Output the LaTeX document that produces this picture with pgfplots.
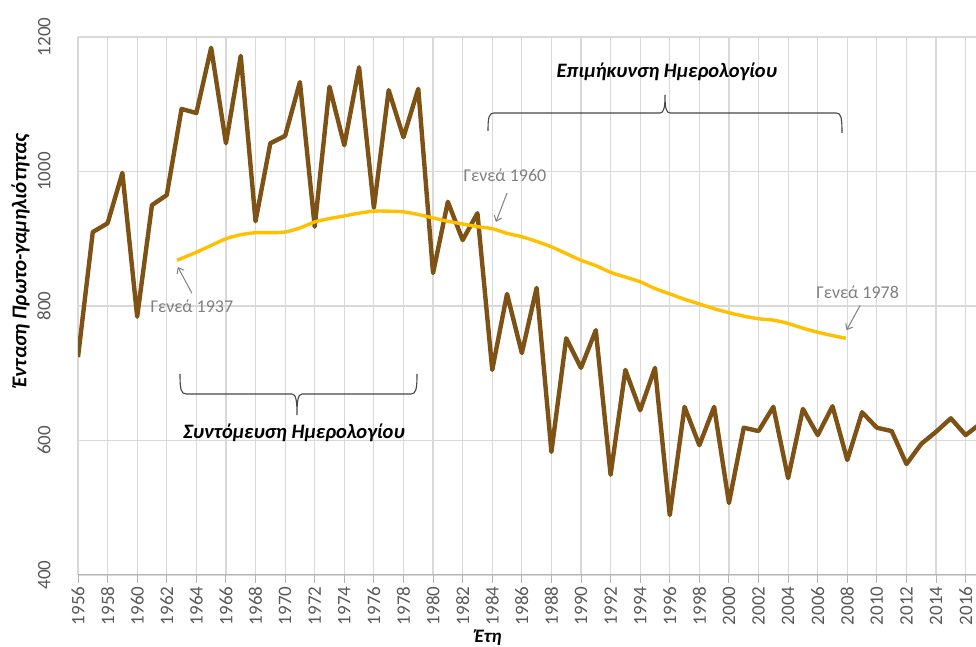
\documentclass[border=0pt]{standalone}
\usepackage{fontspec}
\setmainfont{Carlito}
\usepackage{pgfplots}
\pgfplotsset{compat=1.18}
\usetikzlibrary{arrows.meta}
\definecolor{brownline}{RGB}{125,82,20}
\definecolor{goldline}{RGB}{255,192,0}
\definecolor{gridgray}{RGB}{217,217,217}
\definecolor{ticktext}{RGB}{89,89,89}
\definecolor{annot}{RGB}{128,128,128}
\definecolor{bracecol}{RGB}{70,70,70}
\begin{document}
\begin{tikzpicture}
\useasboundingbox (0,0) rectangle (976pt,647pt);
\begin{axis}[
  at={(78pt,72pt)}, anchor=south west, scale only axis,
  width=898pt, height=538pt,
  xmin=1956, xmax=2016.7, ymin=400, ymax=1200,
  xtick={1956,1958,...,2016}, ytick={400,600,...,1200},
  grid=major, major grid style={draw=gridgray, line width=1.2pt},
  axis line style={draw=none},
  tick align=outside, xtick pos=bottom, ytick pos=left,
  xtick style={draw=gridgray!60!gray, line width=1pt},
  ytick style={draw=none},
  major tick length=8pt,
  /pgf/number format/1000 sep={},
  /pgf/number format/assume math mode=true,
  tick label style={font=\fontsize{19}{19}\selectfont, text=ticktext},
  xticklabel style={rotate=90, anchor=east},
  yticklabel style={xshift=-16pt, rotate=90, anchor=south},
  xlabel={\textbf{\textit{Έτη}}},
  xlabel style={font=\fontsize{19}{19}\selectfont, at={(axis description cs:0.4566,0)}, anchor=center, yshift=-63pt},
  ylabel={\textbf{\textit{Ένταση Πρωτο-γαμηλιότητας}}},
  ylabel style={font=\fontsize{21}{21}\selectfont, at={(axis description cs:-0.064,0.585)}, anchor=center},
  clip=true,
]
\draw[gridgray!60!gray, line width=1.2pt] (rel axis cs:0,0) -- (rel axis cs:1,0);

\addplot[brownline, line width=4.4pt, line join=round] coordinates {
(1956,724) (1957,910) (1958,923) (1959,998) (1960,784) (1961,950) (1962,965)
(1963,1093) (1964,1087) (1965,1184) (1966,1042) (1967,1172) (1968,926)
(1969,1042) (1970,1053) (1971,1133) (1972,918) (1973,1126) (1974,1039)
(1975,1155) (1976,946) (1977,1121) (1978,1051) (1979,1123) (1980,849)
(1981,955) (1982,898) (1983,938) (1984,705) (1985,818) (1986,730)
(1987,827) (1988,583) (1989,752) (1990,708) (1991,764) (1992,549)
(1993,705) (1994,645) (1995,708) (1996,489) (1997,650) (1998,593)
(1999,650) (2000,507) (2001,619) (2002,614) (2003,650) (2004,544)
(2005,647) (2006,608) (2007,651) (2008,571) (2009,642) (2010,619)
(2011,614) (2012,565) (2013,595) (2014,613) (2015,633) (2016,608)
(2017,625)
};

\addplot[goldline, line width=3.4pt, line join=round, smooth] coordinates {
(1962.7,868) (1964,880) (1965,890) (1966,900) (1967,906) (1968,909)
(1969,909) (1970,910) (1971,916) (1972,925) (1973,930) (1974,934)
(1975,938) (1976,941) (1977,941) (1978,940) (1979,936) (1980,931)
(1981,926) (1982,922) (1983,918) (1984,915) (1985,908) (1986,903)
(1987,896) (1988,888) (1989,878) (1990,868) (1991,860) (1992,850)
(1993,843) (1994,836) (1995,826) (1996,818) (1997,810) (1998,803)
(1999,796) (2000,790) (2001,785) (2002,781) (2003,779) (2004,774)
(2005,767) (2006,761) (2007,756) (2007.9,752)
};

\node[text=annot, font=\fontsize{18}{18}\selectfont] at (axis cs:1963.7,799) {Γενεά 1937};
\draw[annot, line width=1pt, -{Straight Barb[length=5pt,width=8pt]}] (axis cs:1963.7,819) -- (axis cs:1962.75,858);
\node[text=annot, font=\fontsize{18}{18}\selectfont] at (axis cs:1984.86,995) {Γενεά 1960};
\draw[annot, line width=1pt, -{Straight Barb[length=5pt,width=8pt]}] (axis cs:1985.0,968) -- (axis cs:1984.25,925);
\node[text=annot, font=\fontsize{18}{18}\selectfont] at (axis cs:2008.7,821) {Γενεά 1978};
\draw[annot, line width=1pt, -{Straight Barb[length=5pt,width=8pt]}] (axis cs:2008.87,801) -- (axis cs:2007.95,764);

\node[font=\fontsize{20.5}{20.5}\selectfont\bfseries\itshape] at (axis cs:1995.8,1148) {Επιμήκυνση Ημερολογίου};
\node[font=\fontsize{20.5}{20.5}\selectfont\bfseries\itshape] at (axis cs:1970.6,611) {Συντόμευση Ημερολογίου};
\end{axis}

% braces (annotation shapes)
\draw[bracecol, line width=1.1pt]
  (488pt,516pt) .. controls (488pt,530pt) and (489pt,534pt) .. (494pt,534pt)
  -- (660pt,534pt) .. controls (664pt,534pt) and (665pt,540pt) .. (665pt,552pt)
  .. controls (665pt,540pt) and (666pt,534pt) .. (670pt,534pt)
  -- (836pt,534pt) .. controls (841pt,534pt) and (842pt,530pt) .. (842pt,514pt);
\draw[bracecol, line width=1.1pt]
  (180pt,273pt) .. controls (180pt,258pt) and (181pt,253pt) .. (186pt,253pt)
  -- (292pt,253pt) .. controls (296pt,253pt) and (297pt,246pt) .. (297pt,232pt)
  .. controls (297pt,246pt) and (298pt,253pt) .. (302pt,253pt)
  -- (411pt,253pt) .. controls (416pt,253pt) and (417pt,258pt) .. (417pt,273pt);
\end{tikzpicture}
\end{document}
